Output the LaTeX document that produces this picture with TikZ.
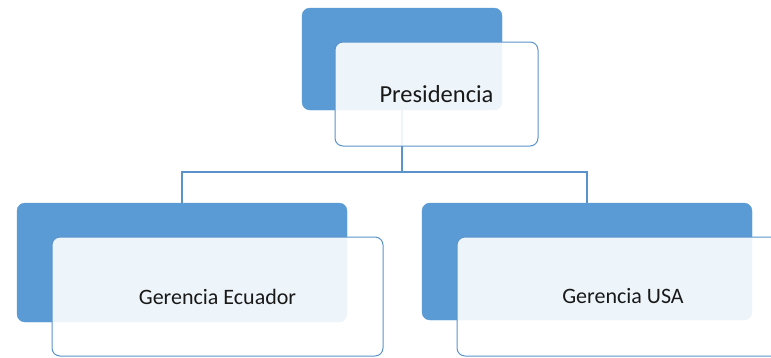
\documentclass[tikz,border=0pt]{standalone}
\usepackage{fontspec}
\setmainfont{Carlito}
\usepackage{xcolor}
\usepackage{tikz}
\usetikzlibrary{positioning,calc}
\definecolor{orgblue}{HTML}{5B9BD5}
\definecolor{orgline}{HTML}{5A93CC}
\definecolor{orgpale}{HTML}{EEF4FB}

\begin{document}
\begin{tikzpicture}[x=1pt,y=-1pt,
		backbox/.style={fill=orgblue,draw=orgblue,rounded corners=8pt},
		frontbox/.style={fill=white,fill opacity=0.9,text opacity=1,draw=orgline,line width=1pt,rounded corners=8pt,align=center,text=black!90},
		orgedge/.style={draw=orgline,line width=1.5pt}]
		\useasboundingbox (0,0) rectangle (771,357);
		\node[backbox,minimum width=200pt,minimum height=102pt] (presb) at (402,59) {};
		\node[backbox,minimum width=330pt,minimum height=119pt] (ecub) at (182,262.5) {};
		\node[backbox,minimum width=330pt,minimum height=117pt] (usab) at (587,261.5) {};
		
		\draw[orgedge] (presb.south) -- ++(0,62) coordinate (split) -| (ecub.north);
		\draw[orgedge] (split) -| (usab.north);
		
		\node[frontbox,minimum width=203pt,minimum height=104pt,font=\fontsize{24.5}{28}\selectfont] (pres) at ($(presb)+(34.5,35)$) {Presidencia};
		\node[frontbox,minimum width=331pt,minimum height=119pt,font=\fontsize{22}{26}\selectfont] (ecu) at ($(ecub)+(35.5,34)$) {Gerencia Ecuador};
		\node[frontbox,minimum width=332pt,minimum height=119pt,font=\fontsize{22}{26}\selectfont] (usa) at ($(usab)+(36,35)$) {Gerencia USA};
	\end{tikzpicture}
\end{document}
